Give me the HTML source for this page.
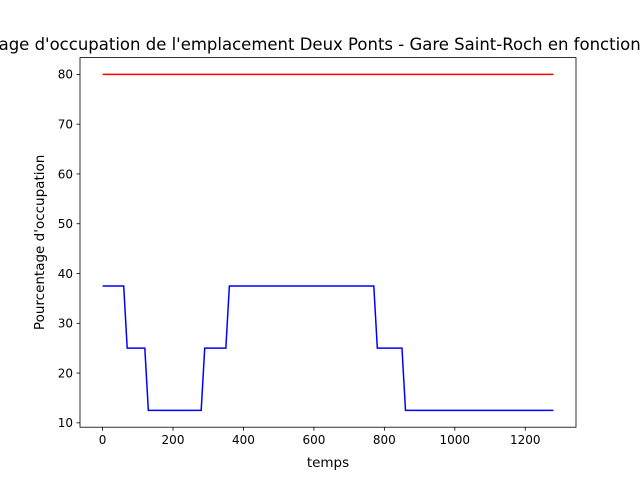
<!DOCTYPE html>
<html><head><meta charset="utf-8"><style>body{margin:0;background:#fff}svg{display:block;font-family:"DejaVu Sans","Liberation Sans",sans-serif}</style></head>
<body>
<svg id="chart" width="640" height="480">
<rect x="0" y="0" width="640" height="480" fill="#fff"/>
<g id="plot"></g>
<rect x="80" y="57.6" width="496" height="369.6" fill="none" stroke="#000" stroke-width="0.8"/>
<text x="325" y="50" text-anchor="middle" font-size="16.5">Pourcentage d'occupation de l'emplacement Deux Ponts - Gare Saint-Roch en fonction du temps</text>
<text x="328" y="467" text-anchor="middle" font-size="13.5">temps</text>
<text x="0" y="0" transform="translate(44,242.4) rotate(-90)" text-anchor="middle" font-size="13.5">Pourcentage d'occupation</text>
</svg>
<script>
const xTicks=[0,200,400,600,800,1000,1200];
const yTicks=[10,20,30,40,50,60,70,80];
const timeValues=[0,60,70,120,130,280,290,350,360,770,780,850,860,1280];
const occupancyValues=[37.5,37.5,25,25,12.5,12.5,25,25,37.5,37.5,25,25,12.5,12.5];
const thresholdTimes=[0,1280];
const thresholdValues=[80,80];
const L=80,R=576,T=57.6,B=427.2;
const xmin=-64,xmax=1344,ymin=9.125,ymax=83.375;
const sx=v=>L+(v-xmin)/(xmax-xmin)*(R-L);
const sy=v=>B-(v-ymin)/(ymax-ymin)*(B-T);
const NS="http://www.w3.org/2000/svg";
const g=document.getElementById('plot');
function mk(t,a){const e=document.createElementNS(NS,t);for(const k in a)e.setAttribute(k,a[k]);g.appendChild(e);return e;}
xTicks.forEach(v=>{
 const l=mk('line',{x1:sx(v),x2:sx(v),y1:B,y2:B+3.5,stroke:'#000','stroke-width':0.8});
 
 
 const t=mk('text',{x:sx(v),y:B+17,'text-anchor':'middle','font-size':12});
 t.textContent=v;
 
 
});
yTicks.forEach(v=>{
 const l=mk('line',{x1:L-3.5,x2:L,y1:sy(v),y2:sy(v),stroke:'#000','stroke-width':0.8});
 
 
 const t=mk('text',{x:L-7,y:sy(v)+4.3,'text-anchor':'end','font-size':12});
 t.textContent=v;
 
 
});
const p1=mk('polyline',{points:thresholdTimes.map((t,i)=>sx(t)+','+sy(thresholdValues[i])).join(' '),fill:'none',stroke:'#ff0000','stroke-width':1.5});


const p2=mk('polyline',{points:timeValues.map((t,i)=>sx(t)+','+sy(occupancyValues[i])).join(' '),fill:'none',stroke:'#0000ff','stroke-width':1.5});


</script>
</body></html>
